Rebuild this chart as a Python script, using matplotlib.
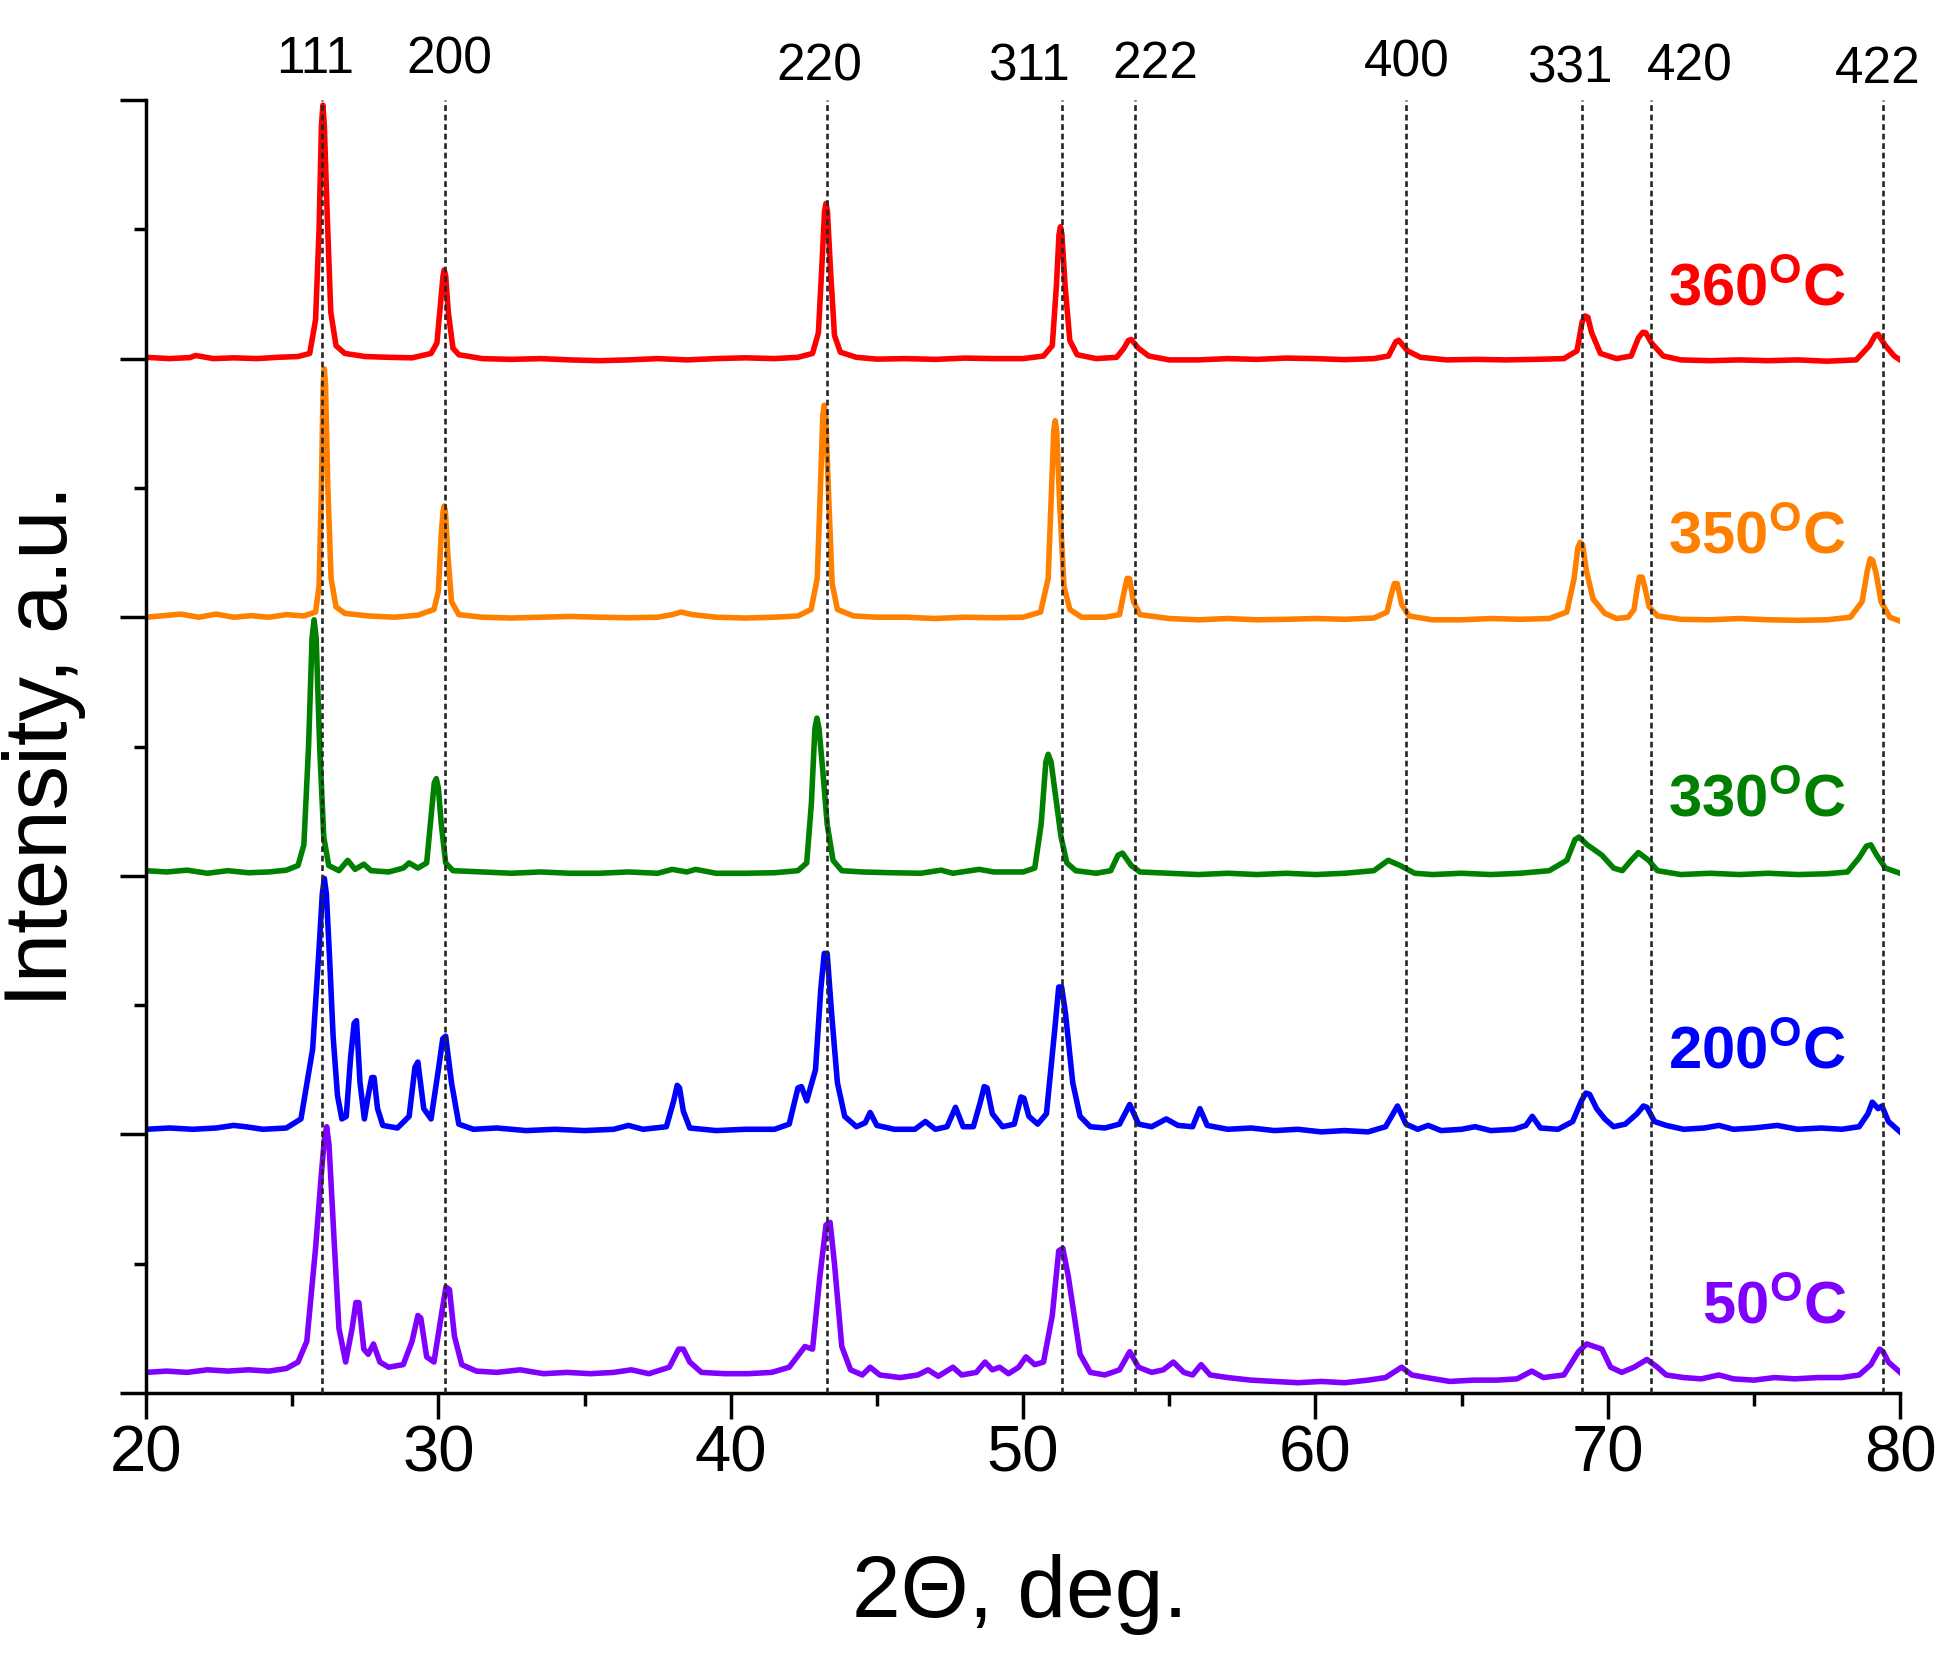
import matplotlib
matplotlib.use("Agg")
import matplotlib.pyplot as plt
from matplotlib.ticker import MultipleLocator

plt.rcParams['font.family'] = ['Liberation Sans', 'DejaVu Sans']
plt.rcParams['mathtext.fontset'] = 'custom'
plt.rcParams['mathtext.rm'] = 'Liberation Sans'
plt.rcParams['mathtext.bf'] = 'Liberation Sans:bold'
plt.rcParams['mathtext.it'] = 'Liberation Sans:italic'

# traced XRD patterns (2theta, normalised intensity), one list per temperature
pts_360 = [(20.0,0.005),(20.8,0.0),(21.5,0.004),(21.7,0.012),(22.3,0.0),(23.0,0.003),(23.8,0.0),(24.5,0.005),(25.2,0.008),(25.6,0.02),
    (25.8,0.15),(25.92,0.5),(26.0,0.9),(26.05,0.98),(26.1,0.9),(26.2,0.55),(26.32,0.18),(26.5,0.05),(26.8,0.02),
    (27.5,0.008),(28.3,0.005),(29.1,0.003),(29.75,0.02),
    (29.95,0.06),(30.08,0.22),(30.16,0.32),(30.2,0.343),(30.25,0.32),(30.34,0.18),(30.5,0.04),(30.7,0.015),
    (31.5,0.0),(32.5,-0.003),(33.5,0.0),(34.5,-0.005),(35.5,-0.008),(36.5,-0.005),(37.5,0.0),(38.5,-0.005),(39.5,0.0),(40.5,0.003),(41.5,0.0),(42.3,0.005),(42.8,0.02),
    (43.0,0.1),(43.12,0.36),(43.21,0.57),(43.26,0.6),(43.31,0.57),(43.41,0.35),(43.55,0.09),(43.75,0.025),
    (44.3,0.005),(45.0,-0.002),(46.0,0.0),(47.0,-0.003),(48.0,0.002),(49.0,0.0),(50.0,0.0),(50.7,0.01),
    (51.0,0.05),(51.14,0.28),(51.23,0.48),(51.28,0.51),(51.33,0.48),(51.44,0.28),(51.6,0.07),(51.85,0.015),
    (52.5,0.0),(53.2,0.005),(53.45,0.04),(53.6,0.07),(53.7,0.074),(53.95,0.04),(54.3,0.01),
    (55.0,-0.005),(56.0,-0.005),(57.0,0.0),(58.0,-0.003),(59.0,0.002),(60.0,0.0),(61.0,-0.004),(62.0,0.0),(62.5,0.01),
    (62.75,0.065),(62.85,0.071),(63.15,0.03),(63.6,0.005),
    (64.5,-0.005),(65.5,-0.003),(66.5,-0.005),(67.5,-0.003),(68.5,0.0),(68.95,0.03),
    (69.12,0.14),(69.22,0.165),(69.32,0.16),(69.45,0.1),(69.75,0.02),
    (70.3,0.0),(70.8,0.01),(71.05,0.08),(71.2,0.102),(71.3,0.1),(71.5,0.06),(71.9,0.01),
    (72.5,-0.005),(73.5,-0.008),(74.5,-0.005),(75.5,-0.008),(76.5,-0.005),(77.5,-0.01),(78.5,-0.005),
    (78.95,0.05),(79.15,0.09),(79.25,0.094),(79.5,0.05),(79.8,0.01),(80.0,-0.005)]

pts_350 = [(20.0,0.0),(20.6,0.006),(21.2,0.012),(21.8,0.0),(22.4,0.012),(23.0,0.0),(23.6,0.006),(24.2,0.0),(24.8,0.01),(25.4,0.005),(25.8,0.02),
    (25.92,0.12),(26.0,0.5),(26.06,0.9),(26.1,0.96),(26.14,0.9),(26.22,0.5),(26.33,0.15),(26.5,0.04),(26.8,0.015),
    (27.6,0.005),(28.5,0.0),(29.3,0.008),(29.85,0.03),
    (30.0,0.1),(30.1,0.32),(30.16,0.41),(30.2,0.43),(30.24,0.41),(30.32,0.25),(30.45,0.06),(30.7,0.01),
    (31.5,0.0),(32.5,-0.003),(33.5,0.0),(34.5,0.003),(35.5,0.0),(36.5,-0.002),(37.5,0.0),(38.0,0.01),(38.3,0.02),(38.7,0.01),(39.5,0.0),(40.5,-0.003),(41.5,0.0),(42.3,0.005),(42.75,0.03),
    (42.96,0.15),(43.07,0.5),(43.15,0.78),(43.2,0.82),(43.25,0.78),(43.34,0.5),(43.47,0.13),(43.65,0.03),
    (44.2,0.005),(45.0,0.0),(46.0,0.0),(47.0,-0.005),(48.0,0.0),(49.0,-0.002),(50.0,0.0),(50.6,0.02),
    (50.86,0.15),(50.97,0.48),(51.05,0.72),(51.1,0.76),(51.15,0.72),(51.25,0.45),(51.4,0.12),(51.6,0.03),
    (52.0,0.0),(52.8,0.0),(53.3,0.01),(53.46,0.1),(53.56,0.15),(53.64,0.15),(53.78,0.06),(54.0,0.01),
    (55.0,-0.005),(56.0,-0.01),(57.0,-0.005),(58.0,-0.01),(59.0,-0.008),(60.0,-0.005),(61.0,-0.008),(62.0,-0.003),(62.45,0.02),
    (62.6,0.09),(62.7,0.13),(62.8,0.13),(62.95,0.05),(63.2,0.005),
    (64.0,-0.01),(65.0,-0.01),(66.0,-0.005),(67.0,-0.008),(68.0,-0.005),(68.6,0.02),
    (68.85,0.15),(68.98,0.27),(69.06,0.29),(69.14,0.28),(69.27,0.18),(69.5,0.07),(69.9,0.015),
    (70.3,-0.005),(70.7,0.0),(70.9,0.03),(71.02,0.12),(71.08,0.155),(71.18,0.155),(71.28,0.11),(71.42,0.04),(71.7,0.005),
    (72.5,-0.008),(73.5,-0.01),(74.5,-0.005),(75.5,-0.01),(76.5,-0.012),(77.5,-0.01),(78.3,0.0),
    (78.7,0.06),(78.88,0.18),(78.98,0.226),(79.06,0.22),(79.18,0.17),(79.35,0.06),(79.65,0.0),(80.0,-0.015)]

pts_330 = [(20.0,0.02),(20.7,0.015),(21.4,0.022),(22.1,0.01),(22.8,0.02),(23.5,0.012),(24.2,0.015),(24.8,0.022),(25.2,0.04),
    (25.4,0.12),(25.56,0.5),(25.68,0.92),(25.75,0.99),(25.82,0.92),(25.94,0.5),(26.08,0.15),(26.25,0.04),(26.6,0.02),
    (26.9,0.06),(27.15,0.025),(27.45,0.045),(27.7,0.02),(28.3,0.015),(28.8,0.03),(29.0,0.05),(29.3,0.03),(29.6,0.05),
    (29.76,0.24),(29.86,0.36),(29.93,0.376),(30.0,0.34),(30.1,0.2),(30.25,0.05),(30.5,0.02),
    (31.5,0.015),(32.5,0.01),(33.5,0.015),(34.5,0.01),(35.5,0.01),(36.5,0.015),(37.5,0.01),(38.0,0.025),(38.5,0.015),(38.8,0.025),(39.5,0.01),(40.5,0.01),(41.5,0.012),(42.3,0.02),(42.6,0.05),
    (42.76,0.28),(42.88,0.57),(42.95,0.61),(43.02,0.57),(43.14,0.42),(43.3,0.2),(43.5,0.06),(43.8,0.02),
    (44.5,0.015),(45.5,0.012),(46.5,0.01),(47.2,0.022),(47.6,0.01),(48.5,0.025),(49.0,0.015),(50.0,0.015),(50.4,0.03),
    (50.62,0.2),(50.78,0.44),(50.86,0.47),(50.96,0.44),(51.1,0.32),(51.3,0.15),(51.5,0.05),(51.8,0.02),
    (52.5,0.01),(53.0,0.02),(53.25,0.08),(53.4,0.088),(53.7,0.04),(54.0,0.015),
    (55.0,0.01),(56.0,0.005),(57.0,0.01),(58.0,0.005),(59.0,0.01),(60.0,0.005),(61.0,0.01),(62.0,0.02),
    (62.49,0.06),(62.9,0.04),(63.4,0.01),
    (64.0,0.005),(65.0,0.01),(66.0,0.005),(67.0,0.01),(68.0,0.02),(68.6,0.06),
    (68.88,0.14),(69.02,0.15),(69.3,0.12),(69.8,0.08),(70.2,0.03),(70.5,0.02),(70.8,0.06),(71.05,0.09),(71.4,0.06),(71.7,0.02),
    (72.5,0.005),(73.5,0.01),(74.5,0.005),(75.5,0.01),(76.5,0.005),(77.5,0.008),(78.2,0.015),
    (78.6,0.07),(78.85,0.115),(79.0,0.12),(79.2,0.08),(79.5,0.03),(80.0,0.01)]

pts_200 = [(20.0,0.02),(20.8,0.025),(21.6,0.02),(22.4,0.025),(23.0,0.035),(23.4,0.03),(24.0,0.02),(24.8,0.025),(25.3,0.06),
    (25.7,0.33),(25.92,0.72),(26.03,0.93),(26.1,0.99),(26.17,0.93),(26.28,0.68),(26.4,0.38),(26.55,0.15),(26.7,0.06),
    (26.85,0.07),(27.0,0.3),(27.12,0.43),(27.2,0.44),(27.32,0.2),(27.47,0.06),(27.6,0.15),(27.72,0.22),(27.8,0.22),(27.92,0.1),(28.1,0.035),
    (28.6,0.025),(29.0,0.07),(29.2,0.26),(29.3,0.28),(29.5,0.1),(29.75,0.06),
    (30.0,0.25),(30.15,0.37),(30.25,0.38),(30.45,0.2),(30.7,0.04),
    (31.2,0.02),(32.0,0.025),(33.0,0.015),(34.0,0.02),(35.0,0.015),(36.0,0.02),(36.5,0.035),(37.0,0.02),(37.8,0.03),
    (38.05,0.13),(38.17,0.19),(38.25,0.18),(38.38,0.09),(38.6,0.025),
    (39.5,0.015),(40.5,0.02),(41.5,0.02),(42.0,0.04),(42.3,0.18),(42.42,0.185),(42.6,0.13),
    (42.9,0.25),(43.08,0.56),(43.2,0.7),(43.3,0.7),(43.45,0.47),(43.65,0.2),(43.9,0.07),
    (44.3,0.03),(44.6,0.045),(44.77,0.085),(45.0,0.035),(45.6,0.02),(46.3,0.02),(46.66,0.05),(47.0,0.02),(47.4,0.03),(47.69,0.105),(47.95,0.03),
    (48.3,0.03),(48.55,0.13),(48.67,0.185),(48.77,0.18),(48.95,0.08),(49.3,0.03),(49.7,0.04),(49.93,0.145),(50.03,0.14),(50.2,0.07),(50.5,0.04),
    (50.8,0.08),(51.08,0.4),(51.22,0.57),(51.32,0.57),(51.45,0.47),(51.7,0.2),(51.95,0.07),
    (52.3,0.03),(52.8,0.025),(53.3,0.04),(53.65,0.116),(53.95,0.04),(54.4,0.03),(54.9,0.06),(55.3,0.035),(55.8,0.03),(56.05,0.1),(56.3,0.035),
    (57.0,0.02),(57.8,0.025),(58.6,0.015),(59.4,0.02),(60.2,0.01),(61.0,0.015),(61.8,0.01),(62.4,0.03),
    (62.81,0.11),(63.1,0.04),(63.5,0.02),(63.86,0.035),(64.3,0.015),(65.0,0.02),(65.46,0.03),(66.0,0.015),(66.8,0.02),(67.2,0.035),(67.42,0.07),(67.7,0.025),
    (68.3,0.02),(68.8,0.05),(69.1,0.13),(69.25,0.16),(69.38,0.155),(69.62,0.1),(69.9,0.06),(70.2,0.03),(70.6,0.04),(71.0,0.08),(71.22,0.11),(71.34,0.105),(71.6,0.05),(72.0,0.035),
    (72.6,0.02),(73.3,0.025),(73.8,0.035),(74.3,0.02),(75.0,0.025),(75.8,0.035),(76.5,0.02),(77.3,0.025),(78.0,0.02),(78.6,0.03),
    (78.9,0.08),(79.05,0.125),(79.25,0.1),(79.38,0.11),(79.6,0.05),(80.0,0.01)]

pts_50 = [(20.0,0.08),(20.7,0.085),(21.4,0.08),(22.1,0.09),(22.8,0.085),(23.5,0.09),(24.2,0.085),(24.8,0.095),(25.2,0.12),
    (25.5,0.2),(25.8,0.56),(26.0,0.85),(26.1,0.98),(26.18,1.03),(26.26,0.96),(26.43,0.6),(26.6,0.25),(26.83,0.12),
    (27.05,0.25),(27.18,0.35),(27.28,0.35),(27.45,0.17),(27.6,0.15),(27.78,0.19),(28.0,0.12),(28.3,0.1),(28.8,0.11),
    (29.1,0.2),(29.3,0.3),(29.4,0.29),(29.6,0.14),(29.85,0.12),(30.1,0.3),(30.26,0.41),(30.38,0.4),(30.55,0.22),(30.8,0.11),
    (31.3,0.085),(32.0,0.08),(32.8,0.09),(33.6,0.075),(34.4,0.08),(35.2,0.075),(36.0,0.08),(36.6,0.09),(37.2,0.075),(37.9,0.1),
    (38.22,0.17),(38.38,0.17),(38.6,0.12),(39.0,0.08),(39.8,0.075),(40.6,0.075),(41.4,0.08),(42.0,0.1),(42.54,0.18),(42.8,0.17),
    (43.05,0.45),(43.26,0.65),(43.4,0.66),(43.55,0.5),(43.8,0.18),(44.1,0.09),(44.5,0.07),(44.77,0.1),(45.1,0.07),(45.8,0.06),(46.4,0.07),(46.75,0.09),(47.1,0.065),(47.6,0.1),(47.9,0.07),(48.4,0.08),(48.7,0.12),(48.95,0.09),(49.2,0.1),(49.5,0.075),(49.85,0.1),(50.1,0.14),(50.4,0.11),(50.7,0.12),
    (51.0,0.3),(51.22,0.55),(51.36,0.56),(51.55,0.45),(51.75,0.3),(51.95,0.15),(52.3,0.08),
    (52.8,0.07),(53.3,0.09),(53.65,0.16),(53.95,0.1),(54.4,0.08),(54.8,0.09),(55.14,0.12),(55.5,0.08),(55.8,0.07),(56.09,0.11),(56.4,0.07),
    (57.0,0.06),(57.8,0.05),(58.6,0.045),(59.4,0.04),(60.2,0.045),(61.0,0.04),(61.8,0.05),(62.4,0.06),(62.95,0.1),(63.3,0.07),(63.8,0.06),(64.6,0.045),(65.4,0.05),(66.2,0.05),(66.9,0.055),(67.4,0.085),(67.8,0.06),
    (68.5,0.07),(69.0,0.16),(69.28,0.19),(69.8,0.17),(70.1,0.1),(70.48,0.08),(70.9,0.1),(71.34,0.13),(71.7,0.1),(72.0,0.07),
    (72.6,0.06),(73.2,0.055),(73.8,0.07),(74.3,0.055),(75.0,0.05),(75.7,0.06),(76.4,0.055),(77.2,0.06),(78.0,0.06),(78.6,0.07),(79.0,0.11),(79.3,0.17),(79.42,0.16),(79.6,0.12),(80.0,0.08)]

temps = ['360', '350', '330', '200', '50']
patterns = [pts_360, pts_350, pts_330, pts_200, pts_50]
colors = ['#ff0000', '#ff8000', '#008000', '#0000ff', '#8000ff']
offsets = [4, 3, 2, 1, 0]
label_y = [4.205, 3.245, 2.228, 1.255, 0.27]

hkl = ['111', '200', '220', '311', '222', '400', '331', '420', '422']
hkl_pos = [26.02, 30.22, 43.3, 51.33, 53.82, 63.1, 69.12, 71.48, 79.4]
hkl_text_x = [25.8, 30.37, 43.03, 50.22, 54.53, 63.14, 68.72, 72.8, 79.23]
hkl_text_y = [5.104, 5.104, 5.077, 5.077, 5.085, 5.09, 5.066, 5.077, 5.066]

fig = plt.figure(figsize=(19.52, 16.61), dpi=100)
ax = fig.add_axes([0.0748, 0.1613, 0.8986, 0.7785])

for pts, col, off in zip(patterns, colors, offsets):
    xs = [p[0] for p in pts]
    ys = [p[1] + off for p in pts]
    ax.plot(xs, ys, color=col, lw=4.0, zorder=2, solid_joinstyle='round')

for pos in hkl_pos:
    ax.axvline(pos, color='#262626', lw=1.9, ls=(0, (2.2, 1.4)), zorder=3)

for t, tx, ty in zip(hkl, hkl_text_x, hkl_text_y):
    ax.text(tx, ty, t, fontsize=37, ha='center', va='baseline', clip_on=False)

for t, col, ly in zip(temps, colors, label_y):
    ax.text(78.16, ly, r'$\mathbf{' + t + '^{O}C}$', color=col, fontsize=43,
            ha='right', va='baseline')

ax.set_xlim(20, 80)
ax.set_ylim(0, 5)
ax.xaxis.set_major_locator(MultipleLocator(10))
ax.xaxis.set_minor_locator(MultipleLocator(5))
ax.yaxis.set_major_locator(MultipleLocator(1))
ax.yaxis.set_minor_locator(MultipleLocator(0.5))
ax.tick_params(which='both', direction='out', width=2.5, labelsize=47, pad=4)
ax.tick_params(which='major', length=18.5)
ax.tick_params(which='minor', length=9)
ax.tick_params(axis='y', labelleft=False)
for s in ['top', 'right']:
    ax.spines[s].set_visible(False)
for s in ['left', 'bottom']:
    ax.spines[s].set_linewidth(2.5)

fig.text(0.0225, 0.551, 'Intensity, a.u.', fontsize=64, rotation=90, ha='center', va='center')
fig.text(0.5225, 0.0265, '2\u0398, deg.', fontsize=63, ha='center', va='baseline')

fig.savefig('out.png', dpi=100)
